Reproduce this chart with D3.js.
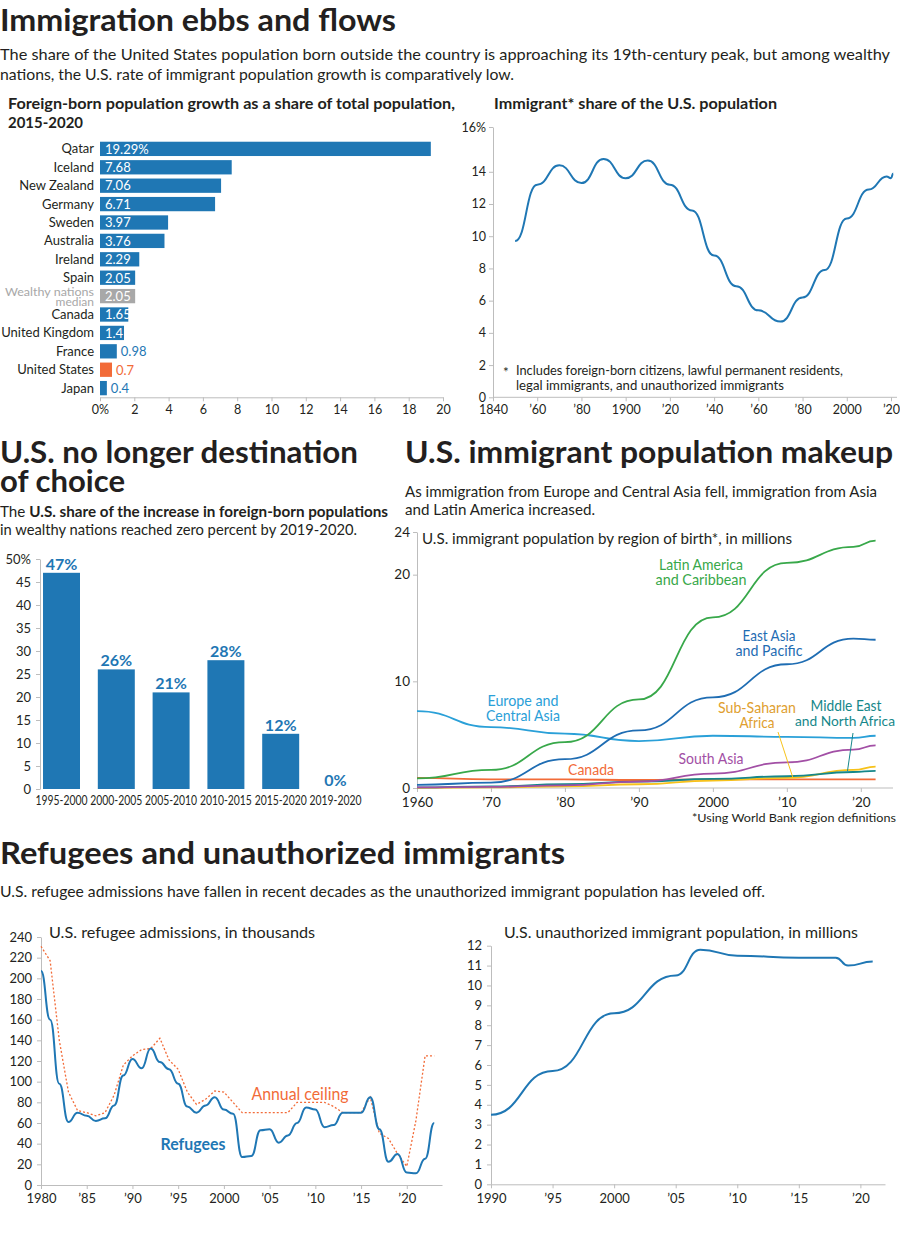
<!DOCTYPE html>
<html><head><meta charset="utf-8">
<script src="https://cdn.jsdelivr.net/npm/d3@7"></script>
<style>body{margin:0;background:#fff}</style>
</head><body><svg id="c" width="900" height="1249"></svg>
<script>
// ---------- DATA ----------
const countries = ["Qatar","Iceland","New Zealand","Germany","Sweden","Australia","Ireland","Spain","Wealthy nations median","Canada","United Kingdom","France","United States","Japan"];
const growth = [19.29,7.68,7.06,6.71,3.97,3.76,2.29,2.05,2.05,1.65,1.4,0.98,0.7,0.4];
const growthTicks = [0,2,4,6,8,10,12,14,16,18,20];

const shareYears = [1850,1860,1870,1880,1890,1900,1910,1920,1930,1940,1950,1960,1970,1980,1990,2000,2010,2018,2020,2021];
const shareValues = [9.7,13.2,14.4,13.3,14.8,13.6,14.7,13.2,11.6,8.8,6.9,5.4,4.7,6.2,7.9,11.1,12.9,13.7,13.6,13.9];
const shareYTicks = [0,2,4,6,8,10,12,14];
const shareXTicks = [1840,1860,1880,1900,1920,1940,1960,1980,2000,2020];
const shareXLabels = ["1840","\u201960","\u201980","1900","\u201920","\u201940","\u201960","\u201980","2000","\u201920"];

const periods = ["1995-2000","2000-2005","2005-2010","2010-2015","2015-2020","2019-2020"];
const usShare = [47,26,21,28,12,0];
const usShareTicks = [0,5,10,15,20,25,30,35,40,45,50];

const regionYears = [1960,1970,1980,1990,2000,2010,2019,2022];
const latinAmerica = [0.9,1.7,4.3,8.3,16.0,21.1,22.6,23.2];
const eastAsia = [0.3,0.5,2.7,5.4,8.5,11.6,14.0,13.9];
const europeCA = [7.2,5.7,5.1,4.4,4.9,4.8,4.7,4.9];
const canada = [0.95,0.8,0.8,0.75,0.8,0.8,0.8,0.8];
const southAsia = [0.05,0.1,0.25,0.6,1.35,2.4,3.6,4.0];
const subSaharan = [0.02,0.05,0.15,0.35,0.7,0.95,1.7,2.0];
const mena = [0.05,0.15,0.35,0.6,0.85,1.1,1.5,1.6];
const regionYTicks = [0,10,20,24];
const regionXTicks = [1960,1970,1980,1990,2000,2010,2020];
const regionXLabels = ["1960","\u201970","\u201980","\u201990","2000","\u201910","\u201920"];

const refYears = d3.range(1980,2024);
const refugees = [207,160,98,61,70,67,62,64.5,77,106,122,113,132,119,112,98,76,70,77,85,73,69,27,28,53,54,41,48,60,75,73,56,58,70,70,70,85,54,22.5,30,12,11.4,25.5,60];
const ceiling = [231,217,140,90,72,70,67,70,87,116,125,131,132,142,121,112,90,78,83,91,90,80,70,70,70,70,70,70,80,80,80,80,76,70,70,70,85,50,45,30,18,62.5,125,125];
const refYTicks = [0,20,40,60,80,100,120,140,160,180,200,220,240];
const refXTicks = [1980,1985,1990,1995,2000,2005,2010,2015,2020];
const refXLabels = ["1980","\u201985","\u201990","\u201995","2000","\u201905","\u201910","\u201915","\u201920"];

const unYears = [1990,1995,2000,2005,2007,2010,2015,2018,2019,2021];
const unauthorized = [3.5,5.7,8.6,10.5,11.8,11.5,11.4,11.4,11.0,11.2];
const unYTicks = [0,1,2,3,4,5,6,7,8,9,10,11,12];
const unXTicks = [1990,1995,2000,2005,2010,2015,2020];
const unXLabels = ["1990","\u201995","2000","\u201905","\u201910","\u201915","\u201920"];

// ---------- STYLE ----------
const F = "Lato, 'Open Sans', sans-serif";
const BLUE = "#1f77b4", ORANGE = "#f26b38", GRAY = "#a8a8a8", INK = "#231f20", AX = "#bdbdbd";
const svg = d3.select("#c").attr("font-family", F);
svg.append("rect").attr("width",900).attr("height",1249).attr("fill","#fff");

function T(sel, x, y, str, o = {}) {
  const t = sel.append("text").attr("x", x).attr("y", y)
    .attr("font-size", o.size || 13).attr("font-weight", o.weight || 400)
    .attr("fill", o.fill || INK).attr("text-anchor", o.anchor || "start")
    .attr("font-family", F);
  if (str !== null) t.text(str);
  if (o.w) t.attr("textLength", o.w).attr("lengthAdjust", "spacingAndGlyphs");
  return t;
}
function styleAxis(g, size) {
  g.attr("font-family", F).attr("font-size", size || 12.5);
  g.selectAll("path.domain").attr("stroke", AX);
  g.selectAll(".tick line").attr("stroke", AX);
  g.selectAll(".tick text").attr("fill", INK);
}

// ---------- HEADINGS ----------
T(svg, 0, 31, "Immigration ebbs and flows", {size: 31, weight: 700, w: 396});
T(svg, 0, 60, "The share of the United States population born outside the country is approaching its 19th-century peak, but among wealthy", {size: 15, w: 890});
T(svg, 0, 80, "nations, the U.S. rate of immigrant population growth is comparatively low.", {size: 15, w: 514});
T(svg, 8, 109, "Foreign-born population growth as a share of total population,", {size: 14.5, weight: 700, w: 447});
T(svg, 8, 128, "2015-2020", {size: 14.5, weight: 700, w: 75});
T(svg, 494, 109, "Immigrant* share of the U.S. population", {size: 14.5, weight: 700, w: 283});

// ---------- PANEL 1 ----------
const x1 = d3.scaleLinear().domain([0, 20]).range([100, 443]);
const y1 = d3.scaleBand().domain(countries).range([139.7, 397.3]).paddingInner(0.223).paddingOuter(0.11);
const col1 = c => c === "United States" ? ORANGE : (c === "Wealthy nations median" ? GRAY : BLUE);
const p1 = svg.append("g");
p1.selectAll("rect.b").data(countries).join("rect")
  .attr("x", x1(0)).attr("y", c => y1(c)).attr("height", y1.bandwidth())
  .attr("width", (c, i) => x1(growth[i]) - x1(0)).attr("fill", col1);
countries.forEach((c, i) => {
  const cy = y1(c) + y1.bandwidth() / 2;
  if (c === "Wealthy nations median") {
    T(p1, 94, cy - 0.5, "Wealthy nations", {size: 12, anchor: "end", fill: GRAY, w: 89});
    T(p1, 94, cy + 9.5, "median", {size: 12, anchor: "end", fill: GRAY});
  } else {
    T(p1, 94, cy + 4.5, c, {size: 13, anchor: "end"});
  }
  const lab = i === 0 ? growth[i] + "%" : String(growth[i]);
  if (growth[i] >= 1) T(p1, x1(0) + 5, cy + 4.8, lab, {size: 13, fill: "#fff"});
  else T(p1, x1(growth[i]) + 4, cy + 4.8, lab, {size: 13, fill: col1(c) });
});
const ax1 = p1.append("g").attr("transform", "translate(0,397.3)")
  .call(d3.axisBottom(x1).tickValues(growthTicks).tickFormat(d => d === 0 ? "0%" : d).tickSize(4).tickSizeOuter(0).tickPadding(4));
styleAxis(ax1, 12.5);

// ---------- PANEL 2 ----------
const x2 = d3.scaleLinear().domain([1840, 2020]).range([493, 891]);
const y2 = d3.scaleLinear().domain([0, 16.78]).range([397.3, 127]);
const p2 = svg.append("g");
const ax2y = p2.append("g").attr("transform", "translate(493,0)")
  .call(d3.axisLeft(y2).tickValues(shareYTicks.concat([16.78])).tickFormat(d => d > 16 ? "16%" : d).tickSize(4).tickSizeOuter(0).tickPadding(3));
styleAxis(ax2y, 12.5);
const ax2x = p2.append("g").attr("transform", "translate(0,397.3)")
  .call(d3.axisBottom(x2).tickValues(shareXTicks).tickFormat((d, i) => shareXLabels[i]).tickSize(4).tickSizeOuter(0).tickPadding(4));
ax2x.select("path.domain").attr("d", `M0,0H${897 - 493}`).attr("transform", "translate(493,0)");
styleAxis(ax2x, 12.5);
p2.append("path").datum(shareYears.map((y, i) => [y, shareValues[i]]))
  .attr("fill", "none").attr("stroke", BLUE).attr("stroke-width", 2)
  .attr("d", d3.line().x(d => x2(d[0])).y(d => y2(d[1])).curve(d3.curveBumpX));
T(p2, 503, 377, "*", {size: 13.5});
T(p2, 516, 375, "Includes foreign-born citizens, lawful permanent residents,", {size: 13.5, w: 327});
T(p2, 516, 390, "legal immigrants, and unauthorized immigrants", {size: 13.5, w: 268});

// ---------- PANEL 3 ----------
T(svg, 0, 463, "U.S. no longer destination", {size: 31, weight: 700, w: 358});
T(svg, 0, 492, "of choice", {size: 31, weight: 700, w: 125});
const st3 = T(svg, 0, 517, null, {size: 15, w: 388});
st3.append("tspan").text("The ");
st3.append("tspan").attr("font-weight", 700).text("U.S. share of the increase in foreign-born populations");
T(svg, 0, 535, "in wealthy nations reached zero percent by 2019-2020.", {size: 15, w: 357});

const x3 = d3.scaleBand().domain(periods).range([40, 357]).paddingInner(0.325).paddingOuter(0.055);
const y3 = d3.scaleLinear().domain([0, 50]).range([789, 559]);
const p3 = svg.append("g");
const ax3 = p3.append("g").attr("transform", "translate(40,0)")
  .call(d3.axisLeft(y3).tickValues(usShareTicks).tickFormat(d => d === 50 ? "50%" : d).tickSize(4).tickSizeOuter(0).tickPadding(5));
styleAxis(ax3, 13);
p3.selectAll("rect").data(periods).join("rect")
  .attr("x", d => x3(d)).attr("width", x3.bandwidth())
  .attr("y", (d, i) => y3(usShare[i])).attr("height", (d, i) => y3(0) - y3(usShare[i])).attr("fill", BLUE);
periods.forEach((d, i) => {
  const cx = x3(d) + x3.bandwidth() / 2;
  T(p3, cx, y3(usShare[i]) - 3, usShare[i] + "%", {size: 16, weight: 700, fill: BLUE, anchor: "middle"});
  T(p3, cx, 805, d, {size: 12.5, anchor: "middle", w: 52});
});

// ---------- PANEL 4 ----------
T(svg, 405, 463, "U.S. immigrant population makeup", {size: 31, weight: 700, w: 488});
T(svg, 405, 497, "As immigration from Europe and Central Asia fell, immigration from Asia", {size: 15, w: 472});
T(svg, 405, 515, "and Latin America increased.", {size: 15, w: 190});

const x4 = d3.scaleLinear().domain([1960, 2020]).range([417, 860.8]);
const y4 = d3.scaleLinear().domain([0, 24]).range([788, 532]);
const p4 = svg.append("g");
const ax4y = p4.append("g").attr("transform", "translate(417,0)")
  .call(d3.axisLeft(y4).tickValues(regionYTicks).tickSize(4).tickSizeOuter(0).tickPadding(3));
styleAxis(ax4y, 13.5);
const ax4x = p4.append("g").attr("transform", "translate(0,788)")
  .call(d3.axisBottom(x4).tickValues(regionXTicks).tickFormat((d, i) => regionXLabels[i]).tickSize(4).tickSizeOuter(0).tickPadding(5));
ax4x.select("path.domain").attr("d", `M0,0H${893 - 417}`).attr("transform", "translate(417,0)");
styleAxis(ax4x, 13.5);
T(p4, 422, 544, "U.S. immigrant population by region of birth*, in millions", {size: 14.5, w: 370});

const series4 = [
  {v: canada, c: ORANGE},
  {v: subSaharan, c: "#f7c21a"},
  {v: mena, c: "#16878a"},
  {v: southAsia, c: "#a24fa5"},
  {v: europeCA, c: "#2aa0d8"},
  {v: eastAsia, c: "#1f6db3"},
  {v: latinAmerica, c: "#38a84a"}
];
const line4 = d3.line().x(d => x4(d[0])).y(d => y4(d[1])).curve(d3.curveBumpX);
series4.forEach(s => {
  p4.append("path").datum(regionYears.map((y, i) => [y, s.v[i]]))
    .attr("fill", "none").attr("stroke", s.c).attr("stroke-width", 1.8).attr("d", line4);
});
// leader lines
p4.append("line").attr("x1", 778).attr("y1", 732).attr("x2", x4(2010.8)).attr("y2", y4(1.0)).attr("stroke", "#f7c21a").attr("stroke-width", 1);
p4.append("line").attr("x1", 853).attr("y1", 733).attr("x2", x4(2018.2)).attr("y2", y4(1.6)).attr("stroke", "#16878a").attr("stroke-width", 1);
const lab4 = (x, y, s, c, w, sz) => T(p4, x, y, s, {size: sz || 15, fill: c, anchor: "middle", w: w});
lab4(701, 570, "Latin America", "#38a84a", 84);
lab4(701, 585, "and Caribbean", "#38a84a", 91);
lab4(769, 641, "East Asia", "#1f6db3", 53);
lab4(769, 656, "and Pacific", "#1f6db3", 67);
lab4(523, 706, "Europe and", "#2aa0d8", 71);
lab4(523, 721, "Central Asia", "#2aa0d8", 74);
lab4(757, 713, "Sub-Saharan", "#e0a030", 78);
lab4(757, 728, "Africa", "#e0a030", 35);
lab4(846, 711, "Middle East", "#16878a", 71);
lab4(845, 726, "and North Africa", "#16878a", 100, 14);
lab4(711, 764, "South Asia", "#a24fa5", 65);
lab4(591, 775, "Canada", ORANGE, 46);
T(p4, 896, 822, "*Using World Bank region definitions", {size: 12, anchor: "end", w: 204});

// ---------- PANEL 5 ----------
T(svg, 0, 864, "Refugees and unauthorized immigrants", {size: 31, weight: 700, w: 565});
T(svg, 0, 897, "U.S. refugee admissions have fallen in recent decades as the unauthorized immigrant population has leveled off.", {size: 15, w: 765});

const x5 = d3.scaleLinear().domain([1980, 2023.85]).range([41, 442]);
const y5 = d3.scaleLinear().domain([0, 240]).range([1185, 937]);
const p5 = svg.append("g");
const ax5y = p5.append("g").attr("transform", "translate(41,0)")
  .call(d3.axisLeft(y5).tickValues(refYTicks).tickSize(4).tickSizeOuter(0).tickPadding(5));
styleAxis(ax5y, 13);
const ax5x = p5.append("g").attr("transform", "translate(0,1185)")
  .call(d3.axisBottom(x5).tickValues(refXTicks).tickFormat((d, i) => refXLabels[i]).tickSize(4).tickSizeOuter(0).tickPadding(5));
styleAxis(ax5x, 13);
T(p5, 49, 938, "U.S. refugee admissions, in thousands", {size: 15.5, w: 266});
p5.append("path").datum(refYears.map((y, i) => [y, ceiling[i]]))
  .attr("fill", "none").attr("stroke", ORANGE).attr("stroke-width", 1.3).attr("stroke-dasharray", "2,2")
  .attr("d", d3.line().x(d => x5(d[0])).y(d => y5(d[1])));
p5.append("path").datum(refYears.map((y, i) => [y, refugees[i]]))
  .attr("fill", "none").attr("stroke", BLUE).attr("stroke-width", 2)
  .attr("d", d3.line().x(d => x5(d[0])).y(d => y5(d[1])).curve(d3.curveBumpX));
T(p5, 300, 1100, "Annual ceiling", {size: 17, fill: ORANGE, anchor: "middle", w: 97});
T(p5, 193, 1150, "Refugees", {size: 17, weight: 700, fill: BLUE, anchor: "middle", w: 65});

// ---------- PANEL 6 ----------
const x6 = d3.scaleLinear().domain([1990, 2022]).range([491, 885]);
const y6 = d3.scaleLinear().domain([0, 12]).range([1184.3, 945.7]);
const p6 = svg.append("g");
const ax6y = p6.append("g").attr("transform", "translate(491,0)")
  .call(d3.axisLeft(y6).tickValues(unYTicks).tickSize(4).tickSizeOuter(0).tickPadding(5));
styleAxis(ax6y, 13);
const ax6x = p6.append("g").attr("transform", "translate(0,1184.3)")
  .call(d3.axisBottom(x6).tickValues(unXTicks).tickFormat((d, i) => unXLabels[i]).tickSize(4).tickSizeOuter(0).tickPadding(5));
styleAxis(ax6x, 13);
T(p6, 504, 938, "U.S. unauthorized immigrant population, in millions", {size: 15.5, w: 354});
p6.append("path").datum(unYears.map((y, i) => [y, unauthorized[i]]))
  .attr("fill", "none").attr("stroke", BLUE).attr("stroke-width", 2)
  .attr("d", d3.line().x(d => x6(d[0])).y(d => y6(d[1])).curve(d3.curveBumpX));
</script></body></html>
